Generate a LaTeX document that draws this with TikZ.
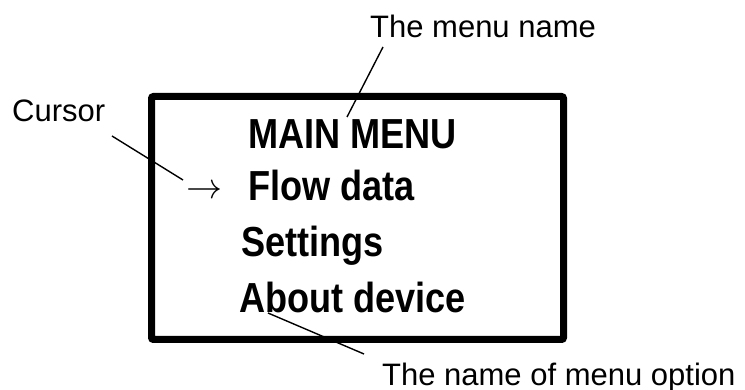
\documentclass[tikz,border=0pt]{standalone}
\usepackage{fontspec}
\setmainfont{Liberation Sans}
\newcommand{\narrowtext}[1]{\scalebox{0.86}[1]{#1}}
\begin{document}
\begin{tikzpicture}[x=1pt,y=-1pt,
  lbl/.style={anchor=base west,inner sep=0pt,font=\fontsize{31}{36}\selectfont},
  item/.style={anchor=base west,inner sep=0pt,font=\fontsize{42}{48}\selectfont\bfseries},
  leader/.style={line width=1.4pt},
  screen/.style={draw,line width=7pt,rounded corners=2pt,inner sep=0pt}]
\useasboundingbox (0,0) rectangle (745,390);
\node[screen,minimum width=412pt,minimum height=243pt] (box) at (357.5,218) {};
\node[lbl] (menuname) at (370,38) {The menu name};
\node[lbl] (cursorlbl) at (12,122) {Cursor};
\node[lbl] (optionlbl) at (382,385) {The name of menu option};
\node[item] (main) at (248,149) {\narrowtext{MAIN MENU}};
\node[item] (flow) at (248,201) {\narrowtext{Flow data}};
\node[item] (settings) at (241,257) {\narrowtext{Settings}};
\node[item] (about) at (239,313) {\narrowtext{About device}};
\node[anchor=base west,inner sep=0pt] (arrow) at (186,199) {\scalebox{3.6}{$\rightarrow$}};
\coordinate (mnA) at (383,47);
\coordinate (mnB) at (347,117);
\coordinate (cuA) at (112,136);
\coordinate (cuB) at (183,180);
\coordinate (opA) at (268,313);
\coordinate (opB) at (364,354);
\draw[leader] (mnA) -- (mnB);
\draw[leader] (cuA) -- (cuB);
\draw[leader] (opA) -- (opB);
\end{tikzpicture}
\end{document}
